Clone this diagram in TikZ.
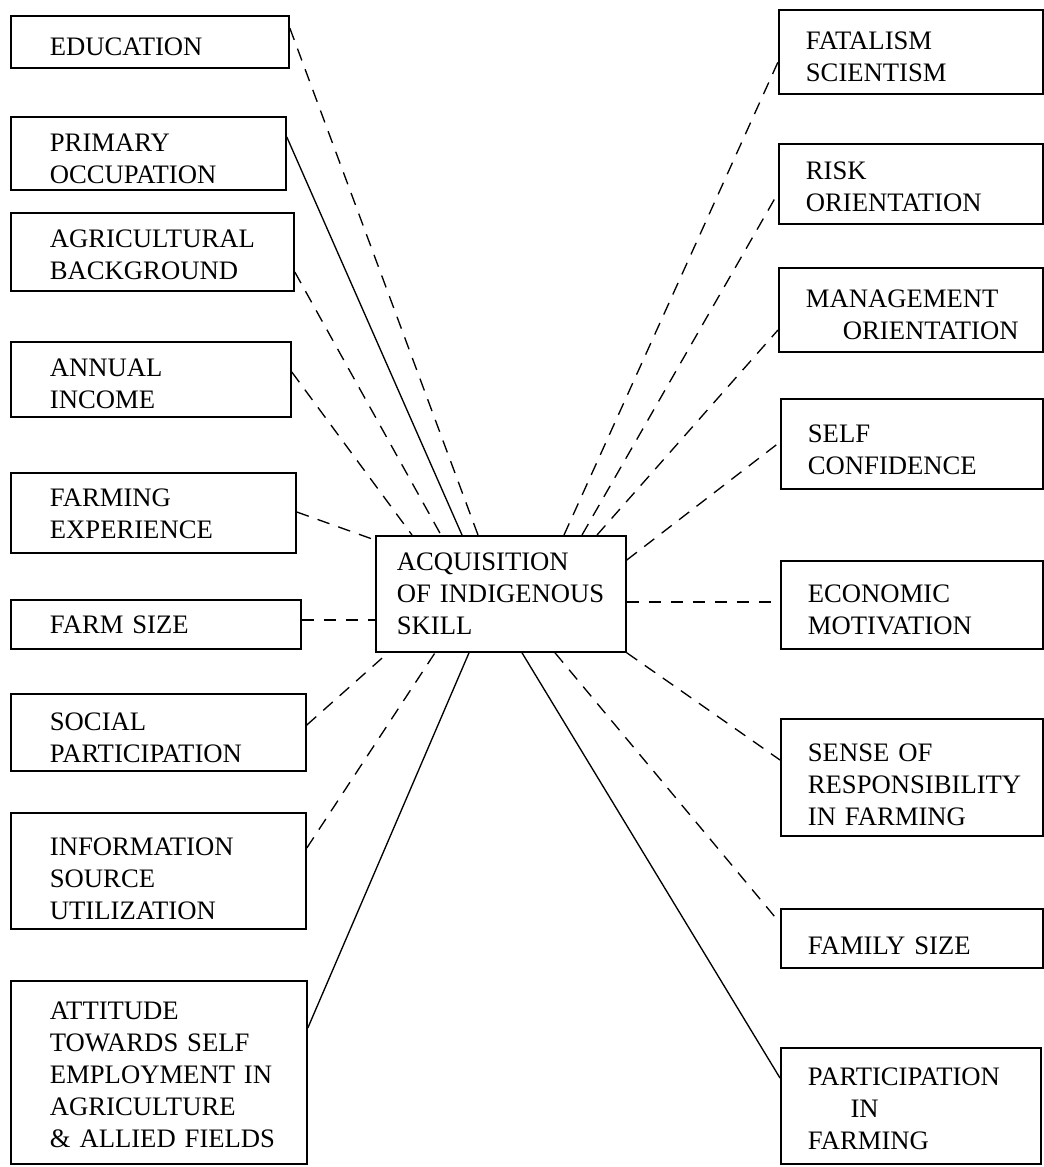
\documentclass[tikz,border=0pt]{standalone}
\usepackage{fontspec}
\setmainfont{Liberation Serif}
\begin{document}
\begin{tikzpicture}[x=0.75pt,y=-0.75pt,
  box/.style={draw, line width=1.35pt, rectangle, anchor=north west, align=left,
    font={\fontsize{20}{24}\selectfont\hyphenpenalty=10000\exhyphenpenalty=10000\lefthyphenmin=62\righthyphenmin=62},
    inner ysep=0pt},
  lbox/.style={box, inner xsep=29.25pt},
  cbox/.style={box, inner xsep=15.75pt},
  rbox/.style={box, inner xsep=20.25pt},
  dn/.style={execute at begin node={\rule{0pt}{\dimexpr 13.8pt+#1pt\relax}}},
  link/.style={line width=1pt},
  dlink/.style={link, dash pattern=on 9.5pt off 7pt}]
\useasboundingbox (0,0) rectangle (1044,1167);
% left column
\node[lbox, dn=6.75, minimum width=208.5pt, minimum height=39pt, text width=150pt] (edu) at (10,15) {EDUCATION};
\node[lbox, dn=7.5, minimum width=206.25pt, minimum height=54.75pt, text width=147.75pt] (prim) at (10,116) {PRIMARY\\OCCUPATION};
\node[lbox, dn=4.5, minimum width=212.25pt, minimum height=58.5pt, text width=153.75pt] (agri) at (10,212) {\mbox{AGRICULTURAL}\\\mbox{BACKGROUND}};
\node[lbox, dn=6.75, minimum width=210pt, minimum height=56.25pt, text width=151.5pt] (annual) at (10,341) {ANNUAL\\INCOME};
\node[lbox, dn=1.5, minimum width=213.75pt, minimum height=60pt, text width=155.25pt] (farmexp) at (10,472) {FARMING\\EXPERIENCE};
\node[lbox, minimum width=217.5pt, minimum height=36.75pt, text width=159pt] (farmsize) at (10,599) {FARM~SIZE};
\node[lbox, dn=7.5, minimum width=221.25pt, minimum height=57.75pt, text width=162.75pt] (social) at (10,693) {SOCIAL\\\mbox{PARTICIPATION}};
\node[lbox, dn=11.25, minimum width=221.25pt, minimum height=87pt, text width=162.75pt] (info) at (10,812) {INFORMATION\\SOURCE\\UTILIZATION};
\node[lbox, dn=3.75, minimum width=222pt, minimum height=137.25pt, text width=163.5pt] (attitude) at (10,980) {ATTITUDE\\\mbox{TOWARDS SELF}\\\mbox{EMPLOYMENT IN}\\\mbox{AGRICULTURE}\\\mbox{\& ALLIED FIELDS}};
% centre
\node[cbox, minimum width=187.5pt, minimum height=87pt, text width=156pt] (ctr) at (375,535) {ACQUISITION\\\mbox{OF INDIGENOUS}\\SKILL};
% right column
\node[rbox, dn=7.5, minimum width=198pt, minimum height=63pt, text width=157.5pt] (fatal) at (778,9) {FATALISM\\SCIENTISM};
\node[rbox, dn=4.5, minimum width=198pt, minimum height=60pt, text width=157.5pt] (risk) at (778,143) {RISK\\\mbox{ORIENTATION}};
\node[rbox, dn=7.5, minimum width=198pt, minimum height=63pt, text width=157.5pt] (manage) at (778,267) {\mbox{MANAGEMENT}\\\mbox{\hspace*{27.75pt}ORIENTATION}};
\node[rbox, dn=8.25, minimum width=196.5pt, minimum height=67.5pt, text width=156pt] (selfconf) at (780,398) {SELF\\\mbox{CONFIDENCE}};
\node[rbox, dn=7.5, minimum width=196.5pt, minimum height=66pt, text width=156pt] (econ) at (780,560) {ECONOMIC\\\mbox{MOTIVATION}};
\node[rbox, dn=11.25, minimum width=196.5pt, minimum height=87.75pt, text width=156pt] (sense) at (780,718) {\mbox{SENSE OF}\\\mbox{RESPONSIBILITY}\\\mbox{IN FARMING}};
\node[rbox, dn=11.25, minimum width=196.5pt, minimum height=44.25pt, text width=156pt] (family) at (780,908) {\mbox{FAMILY SIZE}};
\node[rbox, dn=3.75, minimum width=195pt, minimum height=87pt, text width=154.5pt] (partic) at (780,1047) {\mbox{PARTICIPATION}\\\mbox{\hspace*{32pt}IN}\\FARMING};
% connectors, left
\draw[dlink] (edu.east |- 0,28) -- (ctr.north -| 478,0);
\draw[link] (prim.east |- 0,137) -- (ctr.north -| 462,0);
\draw[dlink] (agri.east |- 0,272) -- (ctr.north -| 441,0);
\draw[dlink] (annual.east |- 0,372) -- (ctr.north -| 412,0);
\draw[dlink] (farmexp.east |- 0,512) -- (ctr.west |- 0,540);
\draw[dlink] (farmsize.east |- 0,620) -- (ctr.west |- 0,620);
\draw[dlink] (social.east |- 0,725) -- (ctr.south -| 388,0);
\draw[dlink] (info.east |- 0,848) -- (ctr.south -| 435,0);
\draw[link] (attitude.east |- 0,1028) -- (ctr.south -| 469,0);
% connectors, right
\draw[dlink] (ctr.north -| 564,0) -- (fatal.west |- 0,62);
\draw[dlink] (ctr.north -| 582,0) -- (risk.west |- 0,193);
\draw[dlink] (ctr.north -| 597,0) -- (manage.west |- 0,330);
\draw[dlink] (ctr.east |- 0,560) -- (selfconf.west |- 0,442);
\draw[dlink] (ctr.east |- 0,602) -- (econ.west |- 0,602);
\draw[dlink] (ctr.south east) -- (sense.west |- 0,760);
\draw[dlink] (ctr.south -| 555,0) -- (family.west |- 0,923);
\draw[link] (ctr.south -| 522,0) -- (partic.west |- 0,1078);
\end{tikzpicture}
\end{document}
